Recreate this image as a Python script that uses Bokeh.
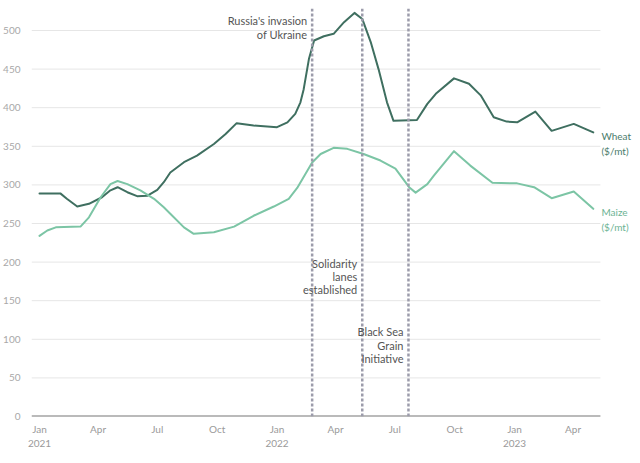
import datetime as dt
from bokeh.plotting import figure
from bokeh.models import Range1d, FixedTicker, Span, Label
from bokeh.embed import file_html
from bokeh.resources import INLINE

# ---- data ----
wheat_dates = ["2021-01-01", "2021-02-02", "2021-02-12", "2021-02-28", "2021-03-18", "2021-04-07",
               "2021-04-20", "2021-05-01", "2021-05-16", "2021-05-31", "2021-06-16", "2021-07-01",
               "2021-07-11", "2021-07-21", "2021-08-11", "2021-08-31", "2021-09-26", "2021-10-14",
               "2021-10-31", "2021-11-26", "2022-01-01", "2022-01-17", "2022-01-29", "2022-02-06",
               "2022-02-11", "2022-02-19", "2022-02-27", "2022-03-14", "2022-03-29", "2022-04-14",
               "2022-04-30", "2022-05-12", "2022-05-25", "2022-06-06", "2022-06-19", "2022-06-29",
               "2022-08-04", "2022-08-20", "2022-09-02", "2022-09-30", "2022-10-23", "2022-11-10",
               "2022-11-30", "2022-12-20", "2023-01-05", "2023-02-02", "2023-02-27", "2023-04-02",
               "2023-05-02"]
wheat_vals = [289, 289, 282, 272, 275.5, 284,
              293, 297, 290.5, 285.4, 286, 293.6,
              303.5, 316, 329.4, 338, 353, 366,
              380, 377, 374.8, 381, 392, 407,
              424, 463, 487, 492.6, 495.7, 510.8,
              522.8, 515, 485, 450, 407, 383,
              384, 405, 418, 438, 431, 416,
              387.7, 382, 381, 395, 370, 379,
              368]

maize_dates = ["2021-01-01", "2021-01-13", "2021-01-26", "2021-03-05", "2021-03-18", "2021-04-05",
               "2021-04-20", "2021-05-01", "2021-05-16", "2021-06-05", "2021-06-26", "2021-07-11",
               "2021-07-21", "2021-08-11", "2021-08-26", "2021-09-26", "2021-10-27", "2021-11-26",
               "2021-12-27", "2022-01-19", "2022-02-01", "2022-02-24", "2022-03-09", "2022-03-29",
               "2022-04-19", "2022-05-14", "2022-06-09", "2022-07-02", "2022-07-23", "2022-08-02",
               "2022-08-20", "2022-08-30", "2022-09-30", "2022-10-25", "2022-11-28", "2023-01-05",
               "2023-01-31", "2023-02-27", "2023-04-02", "2023-05-02"]
maize_vals = [234, 241, 245, 246, 258, 284,
              301, 305, 301, 293, 282, 271,
              262.6, 245, 236.6, 238.7, 246, 260,
              272, 282, 296, 329, 340, 348,
              346.7, 340, 331.6, 321, 297, 290,
              301, 312, 343.7, 325, 302.7, 302,
              297, 282.8, 291.5, 269]

events = ["2022-02-24", "2022-05-12", "2022-07-22"]
event_labels = [["Russia's invasion", "of Ukraine"],
                ["Solidarity", "lanes", "established"],
                ["Black Sea", "Grain", "Initiative"]]
event_label_y = [[513, 495], [198, 181, 164.5], [110, 92, 75]]

series_names = [["Wheat", "($/mt)"], ["Maize", "($/mt)"]]
series_label_y = [[363, 343.5], [265.5, 245.5]]

x_tick_dates = ["2021-01-01", "2021-04-01", "2021-07-01", "2021-10-01", "2022-01-01",
                "2022-04-01", "2022-07-01", "2022-10-01", "2023-01-01", "2023-04-01"]
x_tick_labels = ["Jan\n2021", "Apr", "Jul", "Oct", "Jan\n2022", "Apr", "Jul", "Oct", "Jan\n2023", "Apr"]
y_ticks = [0, 50, 100, 150, 200, 250, 300, 350, 400, 450, 500]

EPOCH = dt.datetime(1970, 1, 1)


def ms(s):
    return (dt.datetime.strptime(s, "%Y-%m-%d") - EPOCH).total_seconds() * 1000.0


DAY = 86400000.0
WHEAT_C = "#3f6f60"
MAIZE_C = "#7cc5a5"
LABEL_C = ["#4b7c6c", "#6db394"]

x0 = ms("2021-01-01")
x_start = x0 - 12.3 * DAY
x_grid_end = x0 + 862 * DAY
x_end = x0 + 920.5 * DAY

p = figure(width=640, height=463, output_backend="svg", toolbar_location=None,
           x_range=Range1d(x_start, x_end),
           y_range=Range1d(0, 528.5),
           min_border_left=31, min_border_right=2, min_border_top=8, min_border_bottom=47)
p.outline_line_color = None
p.background_fill_color = "white"
p.border_fill_color = "white"

p.xgrid.visible = False
p.ygrid.visible = False

# horizontal grid lines ending at the data area
p.segment(x0=[x_start] * (len(y_ticks) - 1), x1=[x_grid_end] * (len(y_ticks) - 1),
          y0=y_ticks[1:], y1=y_ticks[1:], line_color="#e6e6e6", line_width=1)

# y axis
p.yaxis.ticker = FixedTicker(ticks=y_ticks)
p.yaxis.axis_line_color = None
p.yaxis.major_tick_line_color = None
p.yaxis.minor_tick_line_color = None
p.yaxis.major_label_text_color = "#a8a8a8"
p.yaxis.major_label_text_font = "Lato"
p.yaxis.major_label_text_font_size = "10px"
p.yaxis.major_label_standoff = 5

# x axis
xt = [ms(d) for d in x_tick_dates]
p.xaxis.ticker = FixedTicker(ticks=xt)
p.xaxis.major_label_overrides = {t: l for t, l in zip(xt, x_tick_labels)}
p.xaxis.axis_line_color = None
p.xaxis.major_tick_line_color = None
p.xaxis.minor_tick_line_color = None
p.xaxis.major_label_text_color = "#9a9a9a"
p.xaxis.major_label_text_font = "Lato"
p.xaxis.major_label_text_font_size = "10px"
p.xaxis.major_label_standoff = 0

# baseline (x axis line) ending at the data area
p.segment(x0=[x_start], x1=[x_grid_end], y0=[0], y1=[0], line_color="#777777", line_width=2)

# event lines
for e in events:
    p.add_layout(Span(location=ms(e), dimension="height", line_color="#9c9cab",
                      line_width=2.5, line_dash="3 2"))

# series
p.line([ms(d) for d in wheat_dates], wheat_vals, line_color=WHEAT_C, line_width=2,
       line_join="round", line_cap="round")
p.line([ms(d) for d in maize_dates], maize_vals, line_color=MAIZE_C, line_width=2,
       line_join="round", line_cap="round")

# event labels
for e, lines, ys in zip(events, event_labels, event_label_y):
    for txt, yy in zip(lines, ys):
        p.add_layout(Label(x=ms(e), y=yy, text=txt, x_offset=-5, text_align="right",
                           text_baseline="middle", text_font="Lato", text_font_size="11px",
                           text_color="#555555"))

# series labels at the right
for lines, ys, c in zip(series_names, series_label_y, LABEL_C):
    for txt, yy in zip(lines, ys):
        p.add_layout(Label(x=x_grid_end, y=yy, text=txt, x_offset=1, text_align="left",
                           text_baseline="middle", text_font="Lato", text_font_size="10px",
                           text_color=c))

open("out.html", "w").write(file_html(p, INLINE))
